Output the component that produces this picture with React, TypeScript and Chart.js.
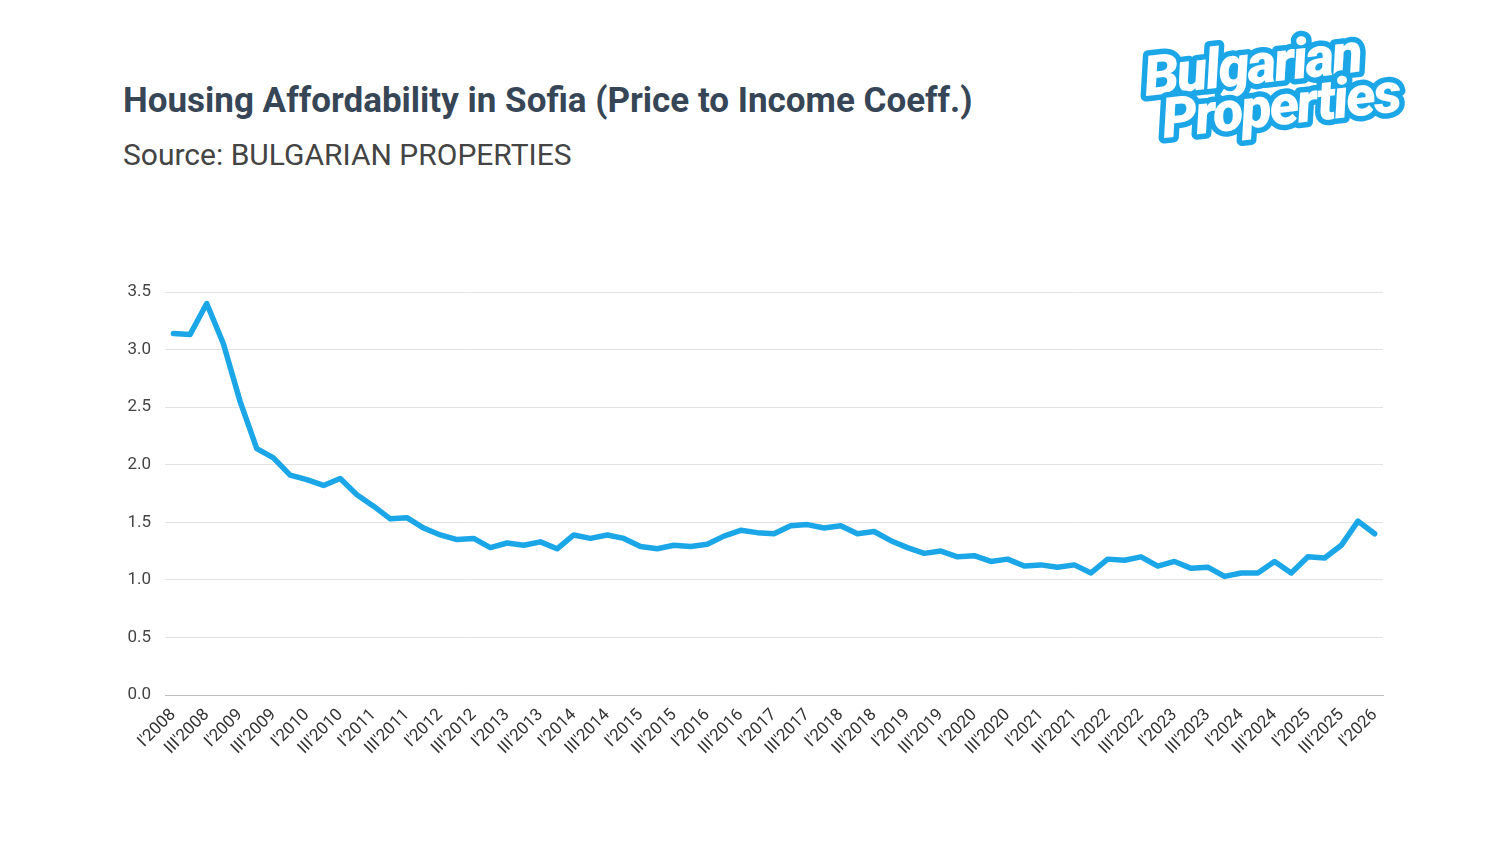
import { useEffect, useRef } from 'react';
import Chart from 'chart.js/auto';

const years = [2008, 2009, 2010, 2011, 2012, 2013, 2014, 2015, 2016, 2017, 2018, 2019, 2020, 2021, 2022, 2023, 2024, 2025, 2026];
const quarters = ['I', 'II', 'III', 'IV'];

// I'2008 ... I'2026
const quarterLabels = years.flatMap((y) => quarters.map((q) => `${q}'${y}`)).slice(0, 73);

const priceToIncome = [
  3.14, 3.13, 3.40, 3.05, 2.55, 2.14, 2.06, 1.91, 1.87, 1.82, 1.88, 1.74,
  1.64, 1.53, 1.54, 1.45, 1.39, 1.35, 1.36, 1.28, 1.32, 1.30, 1.33, 1.27,
  1.39, 1.36, 1.39, 1.36, 1.29, 1.27, 1.30, 1.29, 1.31, 1.38, 1.43, 1.41,
  1.40, 1.47, 1.48, 1.45, 1.47, 1.40, 1.42, 1.34, 1.28, 1.23, 1.25, 1.20,
  1.21, 1.16, 1.18, 1.12, 1.13, 1.11, 1.13, 1.06, 1.18, 1.17, 1.20, 1.12,
  1.16, 1.10, 1.11, 1.03, 1.06, 1.06, 1.16, 1.06, 1.20, 1.19, 1.30, 1.51,
  1.40,
];

const LINE_COLOR = '#1ba6e8';

const App = () => {
  const canvasRef = useRef<HTMLCanvasElement>(null);

  useEffect(() => {
    document.body.style.margin = '0';
    if (!canvasRef.current) return;

    const chart = new Chart(canvasRef.current, {
      type: 'line',
      data: {
        labels: quarterLabels,
        datasets: [
          {
            label: 'Price to Income',
            data: priceToIncome,
            borderColor: LINE_COLOR,
            backgroundColor: LINE_COLOR,
            borderWidth: 5.5,
            pointRadius: 0,
            borderCapStyle: 'round',
            borderJoinStyle: 'round',
            tension: 0,
          },
        ],
      },
      options: {
        responsive: false,
        animation: false,
        layout: {
          padding: { left: 0, right: 117, top: 292, bottom: 39 },
        },
        plugins: {
          legend: { display: false },
          tooltip: { enabled: false },
        },
        scales: {
          x: {
            offset: true,
            grid: { display: false, drawTicks: false },
            border: { color: '#bdbdbd', width: 1 },
            afterFit: (s: any) => {
              s.height = 110;
            },
            ticks: {
              autoSkip: false,
              maxRotation: 45,
              minRotation: 45,
              padding: 10,
              color: '#333',
              font: { family: 'Roboto', size: 17 },
              callback: function (_v: any, i: number) {
                return i % 2 === 0 ? quarterLabels[i] : '';
              },
            },
          },
          y: {
            min: 0,
            max: 3.5,
            afterFit: (s: any) => {
              s.width = 165;
            },
            grid: { color: '#e2e2e2', drawTicks: false },
            border: { display: false },
            ticks: {
              stepSize: 0.5,
              padding: 14,
              color: '#444',
              font: { family: 'Roboto', size: 17 },
              callback: (v: any) => Number(v).toFixed(1),
            },
          },
        },
      },
    });

    return () => chart.destroy();
  }, []);

  const logoText = {
    fontSize: 56,
    letterSpacing: -2,
    fill: '#fff',
    stroke: LINE_COLOR,
    strokeWidth: 11,
    strokeLinejoin: 'round' as const,
    paintOrder: 'stroke',
  };

  return (
    <div style={{ position: 'relative', width: 1500, height: 844, background: '#fff', fontFamily: 'Roboto, sans-serif' }}>
      <div style={{ position: 'absolute', left: 123, top: 80, fontSize: 35, lineHeight: 'normal', fontWeight: 700, color: '#374656', whiteSpace: 'nowrap' }}>
        Housing Affordability in Sofia (Price to Income Coeff.)
      </div>
      <div style={{ position: 'absolute', left: 123, top: 137, fontSize: 30, lineHeight: 'normal', color: '#444', whiteSpace: 'nowrap' }}>
        Source: BULGARIAN PROPERTIES
      </div>
      <svg width={400} height={170} style={{ position: 'absolute', left: 1100, top: 0 }}>
        <g fontFamily="Roboto" fontWeight={900} fontStyle="italic">
          <text transform="translate(46 96) rotate(-6.5)" {...logoText}>
            Bulgarian
          </text>
          <text transform="translate(64 138) rotate(-6.5)" {...logoText}>
            Properties
          </text>
        </g>
      </svg>
      <canvas ref={canvasRef} width={1500} height={844} style={{ position: 'absolute', left: 0, top: 0 }} />
    </div>
  );
};

export default App;
